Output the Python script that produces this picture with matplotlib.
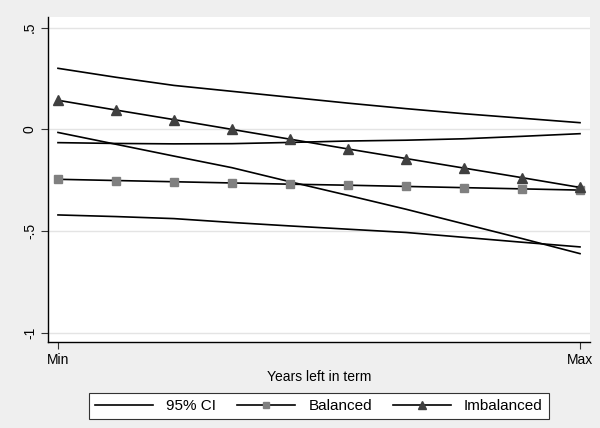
import matplotlib.pyplot as plt

plt.rcParams['font.family'] = ['Liberation Sans', 'DejaVu Sans']

# positions along "years left in term", Min..Max
years = [0, 1, 2, 3, 4, 5, 6, 7, 8, 9]

balanced = [-0.245, -0.251, -0.257, -0.263, -0.269, -0.274, -0.280, -0.286, -0.292, -0.298]
imbalanced = [0.143, 0.095, 0.048, 0.0, -0.048, -0.096, -0.143, -0.190, -0.237, -0.285]

# 95% CI bounds
bal_hi = [-0.065, -0.069, -0.071, -0.070, -0.064, -0.057, -0.053, -0.046, -0.034, -0.021]
bal_lo = [-0.420, -0.428, -0.438, -0.457, -0.474, -0.490, -0.506, -0.530, -0.554, -0.577]
imb_hi = [0.300, 0.256, 0.216, 0.187, 0.158, 0.129, 0.102, 0.077, 0.055, 0.033]
imb_lo = [-0.015, -0.073, -0.131, -0.188, -0.257, -0.324, -0.392, -0.464, -0.536, -0.610]

yticks = [-1, -0.5, 0, 0.5]
ytick_labels = ['-1', '-.5', '0', '.5']

bg = '#efefef'
fig = plt.figure(figsize=(6, 4.28), dpi=100, facecolor=bg)
ax = fig.add_axes([0.08, 0.2009, 0.9033, 0.7594])
ax.set_facecolor('white')

for yt in yticks:
    ax.axhline(yt, color='#e4e4e4', lw=1.0, zorder=0)

lw = 1.2
ax.plot(years, bal_hi, color='black', lw=lw, label='95% CI')
ax.plot(years, bal_lo, color='black', lw=lw)
ax.plot(years, imb_hi, color='black', lw=lw)
ax.plot(years, imb_lo, color='black', lw=lw)
ax.plot(years, balanced, color='black', lw=lw, marker='s', ms=6.2,
        mfc='#808080', mec='#808080', label='Balanced')
ax.plot(years, imbalanced, color='black', lw=lw, marker='^', ms=7.5,
        mfc='#404040', mec='#404040', label='Imbalanced')

ax.set_xlim(-0.172, 9.172)
ax.set_ylim(-1.044, 0.552)
ax.set_xticks([0, 9])
ax.set_xticklabels(['Min', 'Max'], fontsize=10)
ax.set_yticks(yticks)
ax.set_yticklabels(ytick_labels, fontsize=10, rotation=90, va='center')
ax.tick_params(axis='both', length=5, width=0.8, color='#333333', pad=3)
ax.set_xlabel('Years left in term', fontsize=10, labelpad=2)

for side in ['top', 'right']:
    ax.spines[side].set_visible(False)
for side in ['left', 'bottom']:
    ax.spines[side].set_linewidth(1.0)
    ax.spines[side].set_color('black')

leg = fig.legend(loc='center', bbox_to_anchor=(0.5317, 1 - 406 / 428),
                 ncol=3, fontsize=11, frameon=True, fancybox=False,
                 edgecolor='#333333', framealpha=1.0, handlelength=3.8,
                 handletextpad=0.85, columnspacing=1.37, borderpad=0.4,
                 markerscale=0.8)
leg.get_frame().set_linewidth(0.8)

fig.savefig('out.png', dpi=100, facecolor=bg)
